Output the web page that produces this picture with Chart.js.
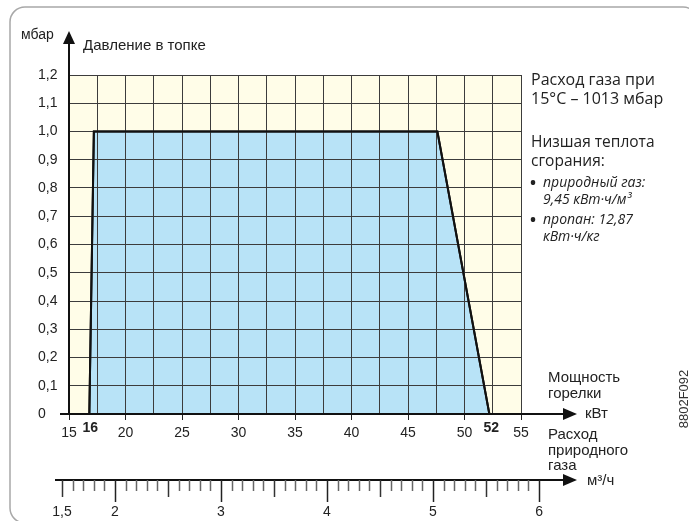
<!DOCTYPE html>
<html>
<head>
<meta charset="utf-8">
<script src="https://cdn.jsdelivr.net/npm/chart.js@4/dist/chart.umd.min.js"></script>
<style>
  html, body { margin: 0; padding: 0; background: #fff; }
</style>
</head>
<body>
<canvas id="grafica" width="689" height="521"></canvas>
<script>
// рабочее поле горелки
const powerKw = [16.8, 17.2, 47.6, 52.2];
const pressureMbar = [0, 1.0, 1.0, 0];
const rangeLabels = ["16", "52"];

// оси
const kwGrid = [15, 17.5, 20, 22.5, 25, 27.5, 30, 32.5, 35, 37.5, 40, 42.5, 45, 47.5, 50, 52.5, 55];
const yTicks = [0, 0.1, 0.2, 0.3, 0.4, 0.5, 0.6, 0.7, 0.8, 0.9, 1.0, 1.1, 1.2];
const flowLabels = [1.5, 2, 3, 4, 5, 6];

const FONT = "'Liberation Sans', Arial, sans-serif";
const TEXT = "#222";

const decor = {
  id: "decor",
  beforeDraw(chart) {
    const { ctx, chartArea: a } = chart;
    ctx.save();
    ctx.fillStyle = "#fff";
    ctx.fillRect(0, 0, chart.width, chart.height);
    // рамка
    ctx.strokeStyle = "#a8a8a8";
    ctx.lineWidth = 1.5;
    ctx.beginPath();
    ctx.roundRect(10, 7, 688, 516, 15);
    ctx.stroke();
    // жёлтое поле
    ctx.fillStyle = "#fffde8";
    ctx.fillRect(a.left, a.top, a.right - a.left, a.bottom - a.top);
    ctx.restore();
  },
  afterDraw(chart) {
    const { ctx, chartArea: a } = chart;
    const x = chart.scales.x, x2 = chart.scales.x2;
    const meta = chart.getDatasetMeta(0);
    if (meta && meta.dataset) meta.dataset.draw(ctx, a);

    ctx.save();
    ctx.strokeStyle = "#111";
    ctx.fillStyle = "#111";
    ctx.lineWidth = 2;

    function arrowRight(y, x0, tip) {
      ctx.beginPath();
      ctx.moveTo(x0, y);
      ctx.lineTo(tip - 10, y);
      ctx.stroke();
      ctx.beginPath();
      ctx.moveTo(tip, y);
      ctx.lineTo(tip - 14, y - 6);
      ctx.lineTo(tip - 14, y + 6);
      ctx.closePath();
      ctx.fill();
    }

    // ось Y
    ctx.beginPath();
    ctx.moveTo(a.left, a.bottom + 1);
    ctx.lineTo(a.left, 42);
    ctx.stroke();
    ctx.beginPath();
    ctx.moveTo(a.left, 31);
    ctx.lineTo(a.left - 6, 44);
    ctx.lineTo(a.left + 6, 44);
    ctx.closePath();
    ctx.fill();

    // ось X (кВт)
    arrowRight(a.bottom, 60, 577);

    // ось расхода газа
    const yF = 480;
    arrowRight(yF, 55, 577);
    for (let i = 15; i <= 60; i++) {
      const px = Math.round(x2.getPixelForValue(i / 10)) + 0.5;
      let len = 11, col = "#666";
      if (i % 10 === 0) { len = 22; col = "#222"; }
      else if (i % 5 === 0) { len = 17; col = "#333"; }
      ctx.strokeStyle = col;
      ctx.lineWidth = 1.5;
      ctx.beginPath();
      ctx.moveTo(px, yF);
      ctx.lineTo(px, yF + len);
      ctx.stroke();
    }
    ctx.fillStyle = TEXT;
    ctx.font = "14px " + FONT;
    ctx.textAlign = "center";
    ctx.textBaseline = "middle";
    flowLabels.forEach(v => {
      ctx.fillText(String(v).replace(".", ","), x2.getPixelForValue(v), 512);
    });

    // границы диапазона
    ctx.font = "bold 14px " + FONT;
    ctx.fillText(rangeLabels[0], x.getPixelForValue(powerKw[0]) + 1, 428);
    ctx.fillText(rangeLabels[1], x.getPixelForValue(powerKw[3]) + 2, 428);

    // подписи
    ctx.textAlign = "left";
    ctx.font = "14px " + FONT;
    ctx.fillText("мбар", 21, 35);
    ctx.font = "15px " + FONT;
    ctx.fillText("Давление в топке", 83, 46);

    ctx.fillText("Мощность", 548, 378);
    ctx.fillText("горелки", 548, 394);
    ctx.fillText("кВт", 585, 414);
    ctx.fillText("Расход", 548, 435);
    ctx.fillText("природного", 548, 451);
    ctx.fillText("газа", 548, 466);
    ctx.fillText("м³/ч", 587, 481);

    ctx.font = "16px 'Open Sans', sans-serif";
    ctx.fillText("Расход газа при", 531, 80);
    ctx.fillText("15°C – 1013 мбар", 531, 99);
    ctx.font = "15.5px 'Open Sans', sans-serif";
    ctx.fillText("Низшая теплота", 531, 143);
    ctx.fillText("сгорания:", 531, 162);
    ctx.font = "bold 16px 'Open Sans', sans-serif";
    ctx.fillText("•", 530, 183);
    ctx.fillText("•", 530, 220);
    ctx.font = "italic 14px 'Open Sans', sans-serif";
    ctx.fillText("природный газ:", 543, 183);
    ctx.fillText("9,45 кВт·ч/м³", 543, 200);
    ctx.fillText("пропан: 12,87", 543, 220);
    ctx.fillText("кВт·ч/кг", 543, 237);

    // шифр
    ctx.translate(684, 399);
    ctx.rotate(-Math.PI / 2);
    ctx.textAlign = "center";
    ctx.font = "13px " + FONT;
    ctx.fillStyle = "#333";
    ctx.fillText("8802F092", 0, 0);
    ctx.restore();
  }
};

const ctx = document.getElementById("grafica");

new Chart(ctx, {
  type: "line",
  data: {
    datasets: [{
      data: powerKw.map((v, i) => ({ x: v, y: pressureMbar[i] })),
      borderColor: "#111",
      borderWidth: 2,
      backgroundColor: "#b8e3f7",
      fill: "origin",
      pointRadius: 0,
      tension: 0
    }]
  },
  options: {
    responsive: false,
    animation: false,
    devicePixelRatio: 1,
    layout: { padding: { left: 38, top: 75, right: 168, bottom: 0 } },
    plugins: {
      legend: { display: false },
      tooltip: { enabled: false }
    },
    scales: {
      x: {
        type: "linear",
        min: 15,
        max: 55,
        afterBuildTicks: s => { s.ticks = kwGrid.map(v => ({ value: v })); },
        afterFit: s => { s.height = 107; },
        ticks: {
          autoSkip: false,
          maxRotation: 0,
          padding: 5,
          color: TEXT,
          font: { family: FONT, size: 14 },
          callback: v => (v % 5 === 0 ? String(v) : "")
        },
        grid: {
          z: 1,
          color: "#3c3c3c",
          lineWidth: 1,
          tickLength: 6,
          tickColor: c => (c.tick && c.tick.value % 5 === 0 ? "#222" : "rgba(0,0,0,0)")
        },
        border: { display: false }
      },
      y: {
        type: "linear",
        min: 0,
        max: 1.2,
        afterBuildTicks: s => { s.ticks = yTicks.map(v => ({ value: v })); },
        afterFit: s => { s.width = 31; },
        ticks: {
          crossAlign: "far",
          padding: 0,
          color: TEXT,
          font: { family: FONT, size: 14 },
          callback: v => (v === 0 ? "0" : v.toFixed(1).replace(".", ","))
        },
        grid: { z: 1, color: "#3c3c3c", lineWidth: 1, drawTicks: false, tickLength: 0 },
        border: { display: false }
      },
      x2: {
        type: "linear",
        display: false,
        min: 1.566,
        max: 5.83
      }
    }
  },
  plugins: [decor]
});
</script>
</body>
</html>
